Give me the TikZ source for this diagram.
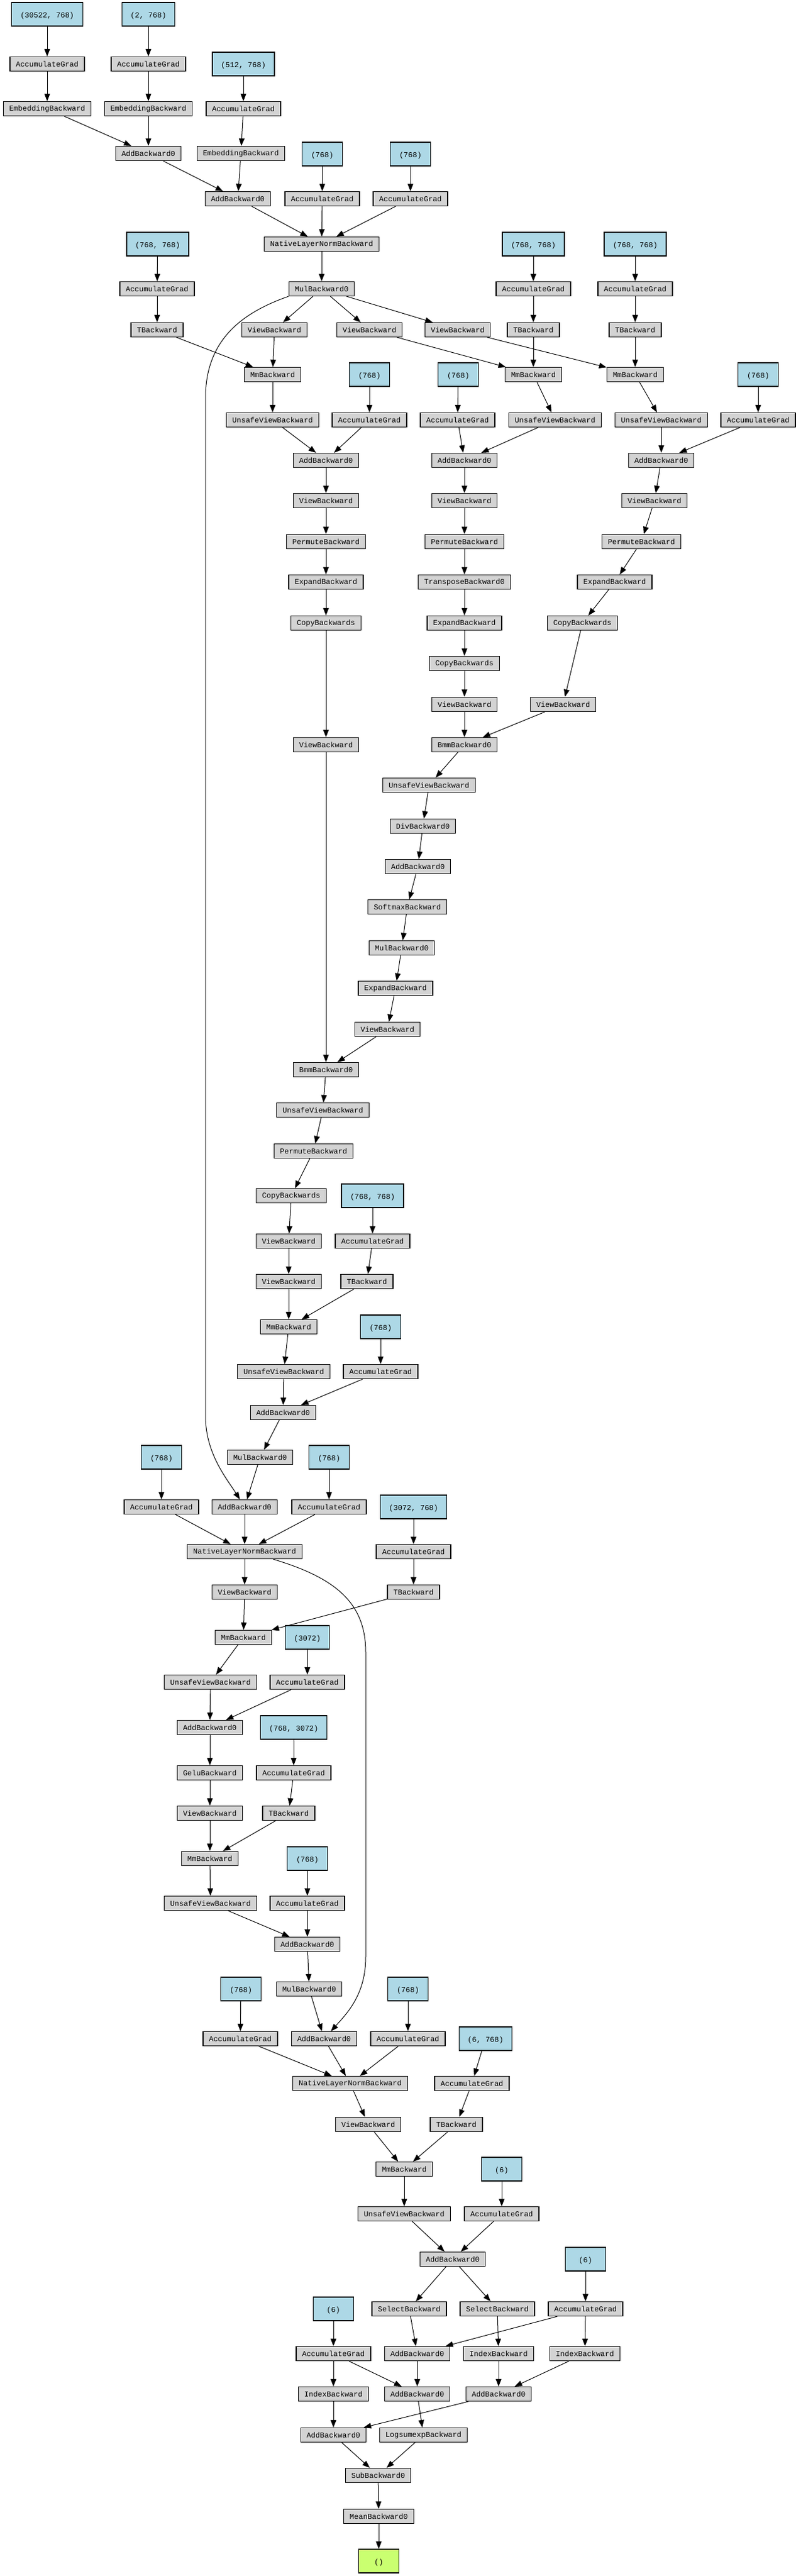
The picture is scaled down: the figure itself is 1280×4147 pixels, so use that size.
\documentclass[tikz,border=0pt]{standalone}
\usepackage{fontspec}
\setmonofont{Liberation Mono}
\usetikzlibrary{arrows.meta}
\definecolor{fngray}{HTML}{D3D3D3}
\definecolor{parblue}{HTML}{ADD8E6}
\definecolor{outgreen}{HTML}{CAFF70}
\newcommand{\sz}[1]{\mbox{}\\#1}

\begin{document}
\begin{tikzpicture}[x=0.5pt, y=-0.5pt,
    fn/.style={draw, line width=0.6pt, fill=fngray, font=\ttfamily\fontsize{6}{6.5}\selectfont,
        minimum height=11.5pt, inner xsep=4.8pt, inner ysep=1pt},
    param/.style={fn, fill=parblue, align=center, minimum height=19pt, minimum width=32.5pt, inner xsep=7pt},
    outp/.style={param, fill=outgreen},
    arr/.style={-{Triangle[length=6pt,width=4.5pt]}, line width=0.5pt}]
        \fill[white] (0,0) rectangle (1280,4147);
        \node[param] (p1) at (76,23) {\sz{(30522, 768)}};
        \node[param] (p2) at (239,23) {\sz{(2, 768)}};
        \node[fn] (ag1) at (76,103) {AccumulateGrad};
        \node[fn] (ag2) at (239,103) {AccumulateGrad};
        \node[param] (p3) at (392,103) {\sz{(512, 768)}};
        \node[fn] (emb1) at (76,175) {EmbeddingBackward};
        \node[fn] (emb2) at (239,175) {EmbeddingBackward};
        \node[fn] (ag3) at (392,175) {AccumulateGrad};
        \node[fn] (add1) at (239,247) {AddBackward0};
        \node[fn] (emb3) at (388,247) {EmbeddingBackward};
        \node[param] (p4) at (519,248) {\sz{(768)}};
        \node[param] (p5) at (661,248) {\sz{(768)}};
        \node[fn] (add2) at (383,320) {AddBackward0};
        \node[fn] (ag4) at (519,320) {AccumulateGrad};
        \node[fn] (ag5) at (661,320) {AccumulateGrad};
        \node[param] (p6) at (254,393) {\sz{(768, 768)}};
        \node[fn] (nln1) at (518,393) {NativeLayerNormBackward};
        \node[param] (p7) at (859,393) {\sz{(768, 768)}};
        \node[param] (p8) at (1023,393) {\sz{(768, 768)}};
        \node[fn] (ag6) at (253,465) {AccumulateGrad};
        \node[fn] (mul1) at (518,465) {MulBackward0};
        \node[fn] (ag7) at (859,465) {AccumulateGrad};
        \node[fn] (ag8) at (1023,465) {AccumulateGrad};
        \node[fn] (t1) at (253,531) {TBackward};
        \node[fn] (view1) at (442,531) {ViewBackward};
        \node[fn] (view2) at (595,531) {ViewBackward};
        \node[fn] (view3) at (737,531) {ViewBackward};
        \node[fn] (t2) at (859,531) {TBackward};
        \node[fn] (t3) at (1023,531) {TBackward};
        \node[fn] (mm1) at (439,603) {MmBackward};
        \node[param] (p9) at (595,603) {\sz{(768)}};
        \node[param] (p10) at (738,603) {\sz{(768)}};
        \node[fn] (mm2) at (859,603) {MmBackward};
        \node[fn] (mm3) at (1023,603) {MmBackward};
        \node[param] (p11) at (1221,603) {\sz{(768)}};
        \node[fn] (uv1) at (439,676) {UnsafeViewBackward};
        \node[fn] (ag9) at (595,676) {AccumulateGrad};
        \node[fn] (ag10) at (737,676) {AccumulateGrad};
        \node[fn] (uv2) at (894,676) {UnsafeViewBackward};
        \node[fn] (uv3) at (1065,676) {UnsafeViewBackward};
        \node[fn] (ag11) at (1221,676) {AccumulateGrad};
        \node[fn] (add3) at (525,741) {AddBackward0};
        \node[fn] (add4) at (748,741) {AddBackward0};
        \node[fn] (add5) at (1065,741) {AddBackward0};
        \node[fn] (view4) at (525,806) {ViewBackward};
        \node[fn] (view5) at (748,806) {ViewBackward};
        \node[fn] (view6) at (1054,806) {ViewBackward};
        \node[fn] (perm1) at (525,872) {PermuteBackward};
        \node[fn] (perm2) at (748,872) {PermuteBackward};
        \node[fn] (perm3) at (1033,872) {PermuteBackward};
        \node[fn] (exp1) at (525,937) {ExpandBackward};
        \node[fn] (trans1) at (748,937) {TransposeBackward0};
        \node[fn] (exp2) at (990,937) {ExpandBackward};
        \node[fn] (copy1) at (525,1003) {CopyBackwards};
        \node[fn] (exp3) at (748,1003) {ExpandBackward};
        \node[fn] (copy2) at (938,1003) {CopyBackwards};
        \node[fn] (copy3) at (748,1068) {CopyBackwards};
        \node[fn] (view7) at (748,1134) {ViewBackward};
        \node[fn] (view8) at (907,1134) {ViewBackward};
        \node[fn] (view9) at (525,1199) {ViewBackward};
        \node[fn] (bmm1) at (748,1199) {BmmBackward0};
        \node[fn] (uv4) at (691,1264) {UnsafeViewBackward};
        \node[fn] (div1) at (681,1330) {DivBackward0};
        \node[fn] (add6) at (673,1395) {AddBackward0};
        \node[fn] (soft1) at (656,1460) {SoftmaxBackward};
        \node[fn] (mul2) at (647,1526) {MulBackward0};
        \node[fn] (exp4) at (637,1591) {ExpandBackward};
        \node[fn] (view10) at (624,1657) {ViewBackward};
        \node[fn] (bmm2) at (525,1722) {BmmBackward0};
        \node[fn] (uv5) at (520,1787) {UnsafeViewBackward};
        \node[fn] (perm4) at (505,1853) {PermuteBackward};
        \node[fn] (copy4) at (469,1925) {CopyBackwards};
        \node[param] (p12) at (600,1925) {\sz{(768, 768)}};
        \node[fn] (view11) at (465,1998) {ViewBackward};
        \node[fn] (ag12) at (600,1998) {AccumulateGrad};
        \node[fn] (view12) at (465,2063) {ViewBackward};
        \node[fn] (t4) at (591,2063) {TBackward};
        \node[fn] (mm4) at (465,2136) {MmBackward};
        \node[param] (p13) at (613,2136) {\sz{(768)}};
        \node[fn] (uv6) at (457,2208) {UnsafeViewBackward};
        \node[fn] (ag13) at (613,2208) {AccumulateGrad};
        \node[fn] (add7) at (456,2274) {AddBackward0};
        \node[param] (p14) at (260,2346) {\sz{(768)}};
        \node[fn] (mul3) at (419,2346) {MulBackward0};
        \node[param] (p15) at (530,2346) {\sz{(768)}};
        \node[fn] (ag14) at (260,2426) {AccumulateGrad};
        \node[fn] (add8) at (394,2426) {AddBackward0};
        \node[fn] (ag15) at (530,2426) {AccumulateGrad};
        \node[param] (p16) at (666,2426) {\sz{(3072, 768)}};
        \node[fn] (nln2) at (394,2498) {NativeLayerNormBackward};
        \node[fn] (ag16) at (666,2498) {AccumulateGrad};
        \node[fn] (view13) at (394,2563) {ViewBackward};
        \node[fn] (t5) at (666,2563) {TBackward};
        \node[fn] (mm5) at (392,2636) {MmBackward};
        \node[param] (p17) at (495,2636) {\sz{(3072)}};
        \node[fn] (uv7) at (339,2708) {UnsafeViewBackward};
        \node[fn] (ag17) at (495,2708) {AccumulateGrad};
        \node[fn] (add9) at (338,2781) {AddBackward0};
        \node[param] (p18) at (473,2781) {\sz{(768, 3072)}};
        \node[fn] (gelu) at (338,2854) {GeluBackward};
        \node[fn] (ag18) at (473,2854) {AccumulateGrad};
        \node[fn] (view14) at (338,2919) {ViewBackward};
        \node[fn] (t6) at (465,2919) {TBackward};
        \node[fn] (mm6) at (338,2992) {MmBackward};
        \node[param] (p19) at (495,2992) {\sz{(768)}};
        \node[fn] (uv8) at (339,3064) {UnsafeViewBackward};
        \node[fn] (ag19) at (495,3064) {AccumulateGrad};
        \node[fn] (add10) at (495,3130) {AddBackward0};
        \node[param] (p20) at (388,3202) {\sz{(768)}};
        \node[fn] (mul4) at (498,3202) {MulBackward0};
        \node[param] (p21) at (657,3202) {\sz{(768)}};
        \node[fn] (ag20) at (387,3282) {AccumulateGrad};
        \node[fn] (add11) at (522,3282) {AddBackward0};
        \node[fn] (ag21) at (657,3282) {AccumulateGrad};
        \node[param] (p22) at (782,3282) {\sz{(6, 768)}};
        \node[fn] (nln3) at (564,3354) {NativeLayerNormBackward};
        \node[fn] (ag22) at (760,3354) {AccumulateGrad};
        \node[fn] (view15) at (593,3420) {ViewBackward};
        \node[fn] (t7) at (735,3420) {TBackward};
        \node[fn] (mm7) at (651,3492) {MmBackward};
        \node[param] (p23) at (808,3492) {\sz{(6)}};
        \node[fn] (uv9) at (651,3564) {UnsafeViewBackward};
        \node[fn] (ag23) at (808,3564) {AccumulateGrad};
        \node[fn] (add12) at (729,3637) {AddBackward0};
        \node[param] (p24) at (943,3637) {\sz{(6)}};
        \node[param] (p25) at (537,3717) {\sz{(6)}};
        \node[fn] (sel1) at (659,3717) {SelectBackward};
        \node[fn] (sel2) at (801,3717) {SelectBackward};
        \node[fn] (ag24) at (943,3717) {AccumulateGrad};
        \node[fn] (ag25) at (537,3789) {AccumulateGrad};
        \node[fn] (add13) at (672,3789) {AddBackward0};
        \node[fn] (idx1) at (803,3789) {IndexBackward};
        \node[fn] (idx2) at (942,3789) {IndexBackward};
        \node[fn] (idx3) at (537,3854) {IndexBackward};
        \node[fn] (add14) at (672,3854) {AddBackward0};
        \node[fn] (add15) at (803,3854) {AddBackward0};
        \node[fn] (add16) at (537,3920) {AddBackward0};
        \node[fn] (lse) at (682,3920) {LogsumexpBackward};
        \node[fn] (sub1) at (609,3985) {SubBackward0};
        \node[fn] (mean1) at (610,4051) {MeanBackward0};
        \node[outp] (out) at (610,4123) {\sz{()}};
        \foreach \a/\b in {p1/ag1, ag1/emb1, p2/ag2, ag2/emb2, emb1/add1, emb2/add1, p3/ag3, ag3/emb3,
            add1/add2, emb3/add2, p4/ag4, p5/ag5, add2/nln1, ag4/nln1, ag5/nln1, nln1/mul1,
            p6/ag6, ag6/t1, mul1/view1, mul1/view2, mul1/view3, p7/ag7, ag7/t2, p8/ag8, ag8/t3,
            t1/mm1, view1/mm1, view2/mm2, t2/mm2, view3/mm3, t3/mm3, mm1/uv1, p9/ag9, p10/ag10,
            mm2/uv2, mm3/uv3, p11/ag11, uv1/add3, ag9/add3, ag10/add4, uv2/add4, uv3/add5, ag11/add5,
            add3/view4, add4/view5, add5/view6, view4/perm1, view5/perm2, view6/perm3,
            perm1/exp1, perm2/trans1, perm3/exp2, exp1/copy1, trans1/exp3, exp2/copy2, exp3/copy3,
            copy3/view7, copy2/view8, copy1/view9, view7/bmm1, view8/bmm1, bmm1/uv4, uv4/div1,
            div1/add6, add6/soft1, soft1/mul2, mul2/exp4, exp4/view10, view9/bmm2, view10/bmm2,
            bmm2/uv5, uv5/perm4, perm4/copy4, copy4/view11, p12/ag12, view11/view12, ag12/t4,
            view12/mm4, t4/mm4, p13/ag13, mm4/uv6, uv6/add7, ag13/add7, add7/mul3, p14/ag14,
            p15/ag15, mul3/add8, p16/ag16, ag14/nln2, add8/nln2, ag15/nln2, nln2/view13, ag16/t5,
            view13/mm5, t5/mm5, p17/ag17, mm5/uv7, uv7/add9, ag17/add9, p18/ag18, add9/gelu,
            gelu/view14, ag18/t6, view14/mm6, t6/mm6, p19/ag19, mm6/uv8, uv8/add10, ag19/add10,
            add10/mul4, p20/ag20, p21/ag21, mul4/add11, p22/ag22, ag20/nln3, add11/nln3, ag21/nln3,
            nln3/view15, ag22/t7, view15/mm7, t7/mm7, p23/ag23, mm7/uv9, uv9/add12, ag23/add12,
            p24/ag24, add12/sel1, add12/sel2, p25/ag25, sel1/add13, ag24/add13, sel2/idx1,
            ag24/idx2, ag25/idx3, ag25/add14, add13/add14, idx1/add15, idx2/add15, idx3/add16,
            add15/add16, add14/lse, add16/sub1, lse/sub1, sub1/mean1, mean1/out}
            \draw[arr] (\a) -- (\b);
        \draw[arr] (mul1.south west) .. controls (400,500) and (331,540) .. (331,640)
            -- (331,2280) .. controls (331,2340) and (365,2380) .. (add8);
        \draw[arr] ([xshift=23pt]nln2.south) .. controls (540,2540) and (589,2580) .. (589,2660)
            -- (589,3150) .. controls (589,3210) and (560,3240) .. (add11);
    \end{tikzpicture}
\end{document}
